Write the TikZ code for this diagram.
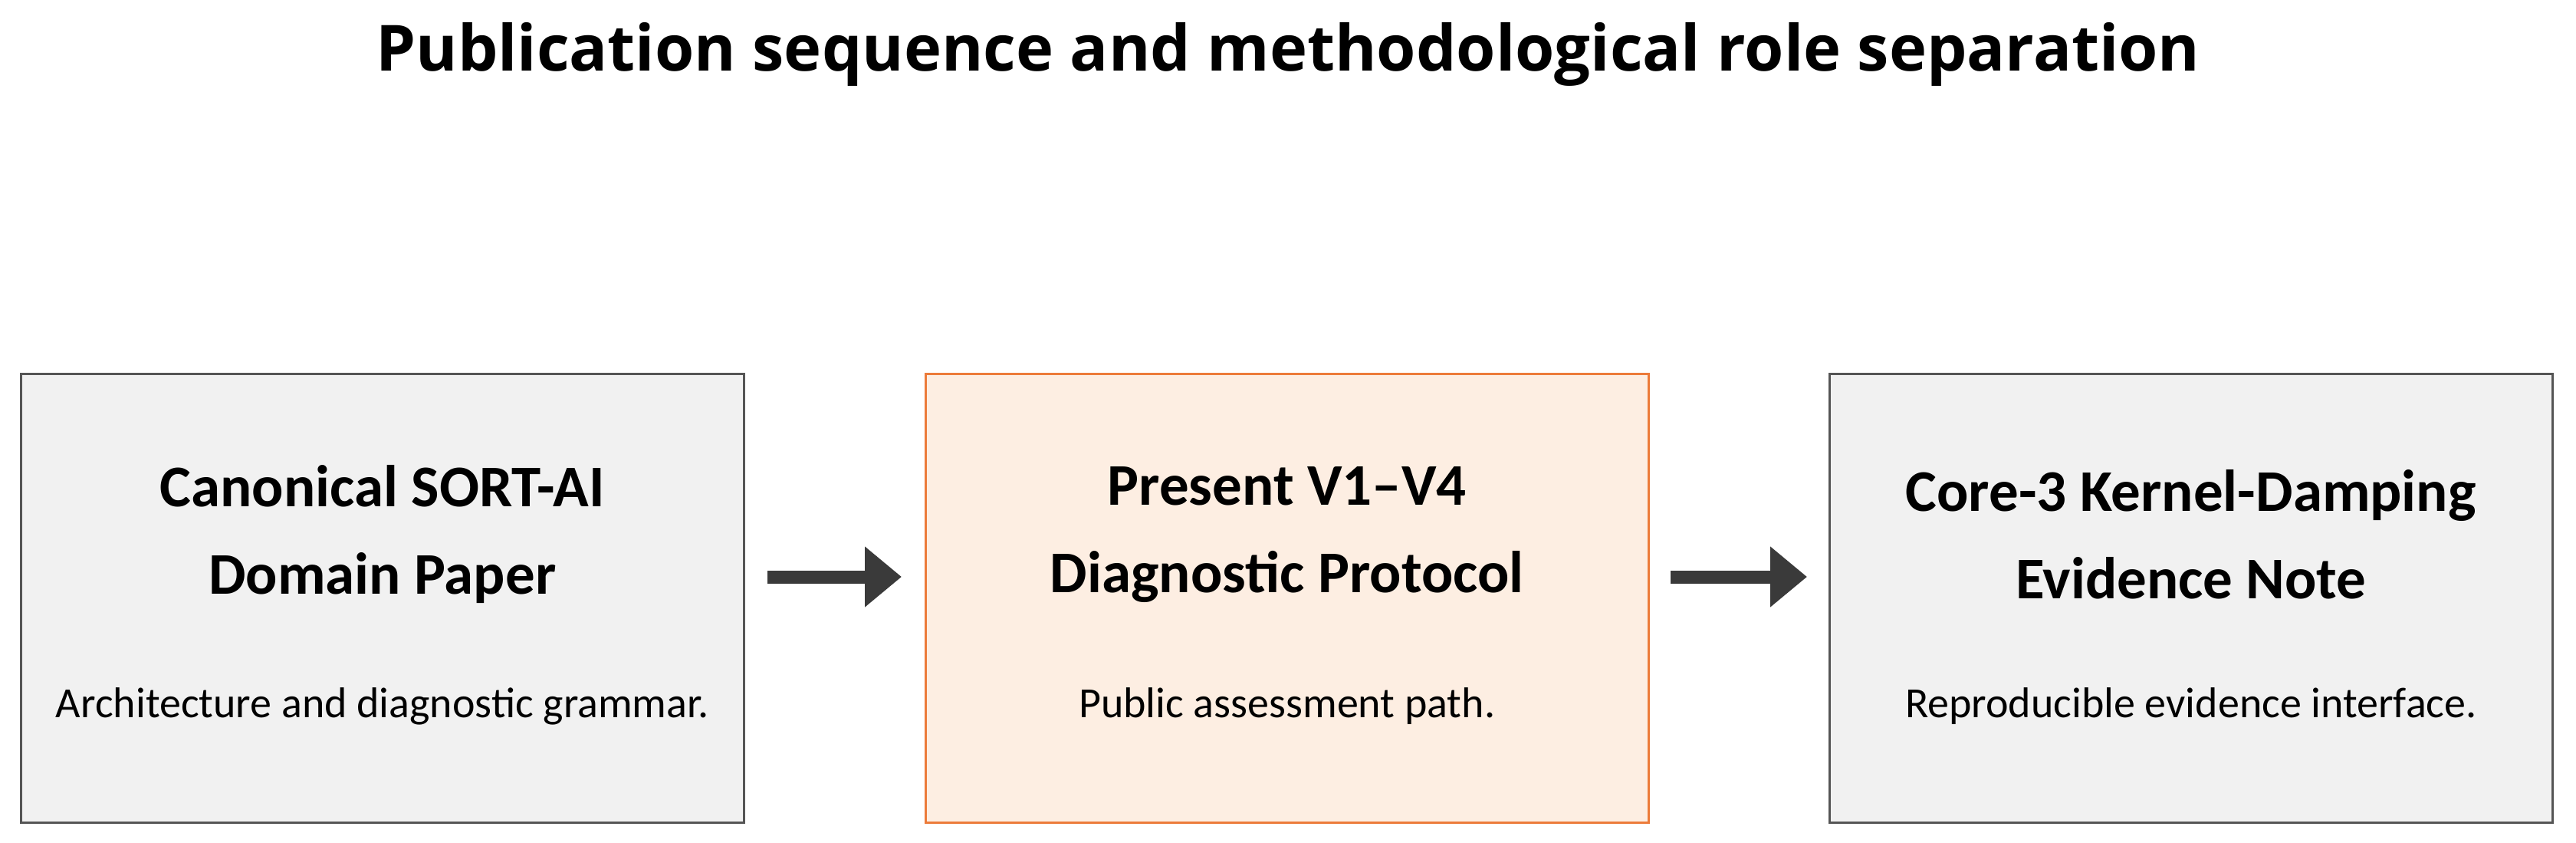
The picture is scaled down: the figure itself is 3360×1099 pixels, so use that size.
\documentclass[tikz,border=0pt]{standalone}
\usepackage{fontspec}
\usetikzlibrary{arrows.meta}
\setmainfont{Carlito}
\newfontfamily\titlefont{Open Sans}
\definecolor{grayfill}{HTML}{F1F1F1}
\definecolor{grayline}{HTML}{555555}
\definecolor{orfill}{HTML}{FDEEE2}
\definecolor{orline}{HTML}{EC7B3A}
\definecolor{arr}{HTML}{3A3A3A}
\begin{document}
\begin{tikzpicture}[x=1pt,y=-1pt,
  box/.style={draw=grayline,fill=grayfill,line width=2.5pt,minimum width=943pt,minimum height=585pt,anchor=north west,inner sep=0pt},
  obox/.style={box,draw=orline,fill=orfill},
  head/.style={font=\fontsize{77}{114}\selectfont\bfseries,align=center},
  sub/.style={font=\fontsize{56}{66}\selectfont},
  conn/.style={draw=arr,line width=17pt,-{Triangle[length=48pt,width=76pt]}}]
\useasboundingbox (0,0) rectangle (3360,1099);
\fill[white] (0,0) rectangle (3360,1099);
\node[font=\titlefont\fontsize{83}{96}\selectfont\bfseries] (title) at (1680,71) {Publication sequence and methodological role separation};
\node[box] (b1) at (26,486) {};
\node[obox] (b2) at (1206,486) {};
\node[box] (b3) at (2385,486) {};
\node[head] (h1) at (b1.center |- 0,697) {Canonical SORT-AI\\Domain Paper};
\node[head] (h2) at (b2.center |- 0,697) {Present V1–V4\\Diagnostic Protocol};
\node[head] (h3) at (b3.center |- 0,697) {Core-3 Kernel-Damping\\Evidence Note};
\node[sub] (s1) at (b1.center |- 0,921) {Architecture and diagnostic grammar.};
\node[sub] (s2) at (b2.center |- 0,921) {Public assessment path.};
\node[sub] (s3) at (b3.center |- 0,921) {Reproducible evidence interface.};
\coordinate (a1s) at (1001,752); \coordinate (a1e) at (1176,752);
\coordinate (a2s) at (2179,752); \coordinate (a2e) at (2357,752);
\draw[conn] (a1s) -- (a1e);
\draw[conn] (a2s) -- (a2e);
\end{tikzpicture}
\end{document}
